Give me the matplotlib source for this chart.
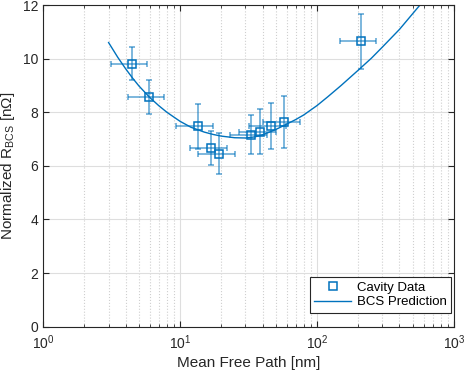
import matplotlib
matplotlib.use('Agg')
import matplotlib.pyplot as plt
import numpy as np

plt.rcParams['font.family'] = ['Liberation Sans', 'DejaVu Sans']
plt.rcParams['mathtext.fontset'] = 'custom'
plt.rcParams['mathtext.rm'] = 'Liberation Sans'
plt.rcParams['mathtext.it'] = 'Liberation Sans:italic'

# cavity data (mean free path [nm], normalized R_BCS [nOhm])
mfp = [4.44, 5.91, 13.4, 16.9, 19.2, 32.9, 38.4, 45.9, 57.7, 209]
mfp_err = [1.33, 1.77, 4.0, 5.1, 5.8, 9.9, 11.5, 13.8, 17.3, 63]
rbcs = [9.81, 8.57, 7.48, 6.67, 6.46, 7.17, 7.28, 7.49, 7.65, 10.65]
rbcs_err = [0.61, 0.65, 0.84, 0.64, 0.76, 0.73, 0.85, 0.87, 0.97, 1.03]

# BCS prediction
bcs_mfp = [3, 3.5, 4, 4.5, 5, 6, 7, 8, 9, 10, 12, 15, 17.5, 20, 25, 30, 35,
           40, 46, 52, 58, 70, 80, 100, 120, 150, 200, 250, 300, 400, 565]
bcs_r = [10.60, 10.05, 9.62, 9.27, 8.98, 8.55, 8.24, 8.00, 7.82, 7.66, 7.44,
         7.26, 7.17, 7.11, 7.05, 7.04, 7.08, 7.16, 7.28, 7.40, 7.52, 7.73,
         7.90, 8.25, 8.58, 9.00, 9.57, 10.02, 10.43, 11.09, 12.0]

blue = '#0072BD'
dark = '#262626'

fig = plt.figure(figsize=(4.65, 3.74), dpi=100)
ax = fig.add_axes([0.0931, 0.1265, 0.883, 0.860])

ax.errorbar(mfp, rbcs, xerr=mfp_err, yerr=rbcs_err, fmt='none',
            ecolor=blue, alpha=0.6, elinewidth=1.2, capsize=2.3, capthick=1.2)
ax.plot(mfp, rbcs, 's', mfc='none', mec=blue, ms=5.5, mew=1.1,
        label='Cavity Data')
ax.plot(bcs_mfp, bcs_r, '-', color=blue, lw=1.0, label='BCS Prediction')

ax.set_xscale('log')
ax.set_xlim(1, 1000)
ax.set_ylim(0, 12)
ax.set_yticks(np.arange(0, 13, 2))

ax.grid(which='major', color='#dedede', linestyle='-', linewidth=0.8)
ax.grid(which='minor', axis='x', color='#cfcfcf', linestyle=':', linewidth=0.8)
ax.set_axisbelow(True)

ax.tick_params(which='both', direction='in', top=True, right=True,
               colors=dark, labelsize=10)
ax.tick_params(which='major', length=4)
ax.tick_params(which='minor', length=2)
ax.tick_params(axis='x', which='major', pad=5)
for s in ax.spines.values():
    s.set_color(dark)
    s.set_linewidth(0.8)

ax.set_xlabel('Mean Free Path [nm]', fontsize=11, color=dark, labelpad=3)
ax.set_ylabel(r'Normalized R$_{\mathrm{BCS}}$ [n$\Omega$]', fontsize=11,
              color=dark)

leg = ax.legend(loc='lower right', bbox_to_anchor=(0.993, 0.043),
                borderaxespad=0, fontsize=9.5, fancybox=False,
                framealpha=1, edgecolor=dark, handlelength=2.8,
                handletextpad=0.4, borderpad=0.35, labelspacing=0.15)
leg.get_frame().set_linewidth(0.8)

fig.savefig('out.png', dpi=100)
